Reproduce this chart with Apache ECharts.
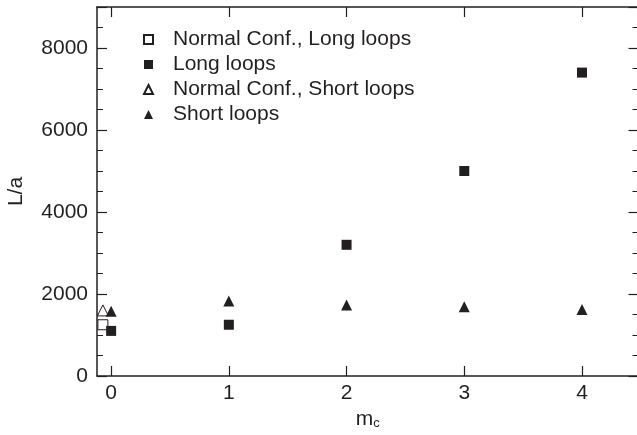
<!DOCTYPE html>
<html>
<head>
<meta charset="utf-8">
<script src="https://cdn.jsdelivr.net/npm/echarts@6/dist/echarts.min.js"></script>
<style>html,body{margin:0;padding:0;background:#fff}#c{width:637px;height:435px}</style>
</head>
<body>
<div id="c"></div>
<script>
const seriesNames = ['Normal Conf., Long loops', 'Long loops', 'Normal Conf., Short loops', 'Short loops'];
const normalLongX = [-0.07];
const normalLongY = [1250];
const longX = [0, 1, 2, 3, 4];
const longY = [1100, 1250, 3200, 5000, 7400];
const normalShortX = [-0.07];
const normalShortY = [1600];
const shortX = [0, 1, 2, 3, 4];
const shortY = [1580, 1830, 1730, 1690, 1620];
const xTicks = [0, 1, 2, 3, 4];

const ink = '#231f20';
const font = 'Liberation Sans, Arial, Helvetica, sans-serif';
const pair = (xs, ys) => xs.map((x, i) => [x, ys[i]]);

const chart = echarts.init(document.getElementById('c'));
const xBase = {
  type: 'value', min: -0.12, max: 4.48,
  axisLine: { show: true, onZero: false, lineStyle: { color: ink, width: 1.5 } },
  axisTick: { show: true, inside: true, length: 10, customValues: xTicks, lineStyle: { color: ink, width: 1.2 } },
  splitLine: { show: false }
};
const yBase = {
  type: 'value', min: 0, max: 9000, interval: 2000,
  axisLine: { show: true, onZero: false, lineStyle: { color: ink, width: 1.5 } },
  axisTick: { show: true, inside: true, length: 10, lineStyle: { color: ink, width: 1.2 } },
  minorTick: { show: true, splitNumber: 4, length: 6, lineStyle: { color: ink, width: 1 } },
  splitLine: { show: false }, minorSplitLine: { show: false }
};
chart.setOption({
  animation: false,
  backgroundColor: '#fff',
  grid: { left: 97, width: 541.5, top: 7, height: 369, containLabel: false, outerBoundsMode: 'none' },
  legend: {
    orient: 'vertical', left: 138, top: 24, itemGap: 4,
    itemWidth: 9, itemHeight: 9,
    data: seriesNames,
    textStyle: { fontFamily: font, fontSize: 21, color: ink, padding: [0, 0, 0, 15] }
  },
  xAxis: [
    Object.assign({}, xBase, {
      position: 'bottom',
      name: '{m|m}{s|c}', nameLocation: 'middle', nameGap: 26,
      nameTextStyle: { rich: { m: { fontFamily: font, fontSize: 21, color: ink }, s: { fontFamily: font, fontSize: 13, color: ink, verticalAlign: 'bottom', padding: [9, 0, 0, 0] } } },
      axisLabel: { show: true, customValues: xTicks, margin: 7, fontFamily: font, fontSize: 21, color: ink }
    }),
    Object.assign({}, xBase, { position: 'top', axisLabel: { show: false } })
  ],
  yAxis: [
    Object.assign({}, yBase, {
      position: 'left',
      name: 'L/a', nameLocation: 'middle', nameGap: 70, nameRotate: 90,
      nameTextStyle: { fontFamily: font, fontSize: 21, color: ink },
      axisLabel: { show: true, margin: 9, fontFamily: font, fontSize: 21, color: ink, showMaxLabel: false, formatter: v => String(v) }
    }),
    Object.assign({}, yBase, { position: 'right', axisLabel: { show: false } })
  ],
  series: [
    { name: seriesNames[0], type: 'scatter', symbol: 'rect', symbolSize: 10, data: pair(normalLongX, normalLongY), itemStyle: { color: '#fff', borderColor: ink, borderWidth: 1, opacity: 1 } },
    { name: seriesNames[1], type: 'scatter', symbol: 'rect', symbolSize: 10, data: pair(longX, longY), itemStyle: { color: ink, opacity: 1 } },
    { name: seriesNames[2], type: 'scatter', symbol: 'triangle', symbolSize: 11, data: pair(normalShortX, normalShortY), itemStyle: { color: '#fff', borderColor: ink, borderWidth: 1, opacity: 1 } },
    { name: seriesNames[3], type: 'scatter', symbol: 'triangle', symbolSize: 11, data: pair(shortX, shortY), itemStyle: { color: ink, opacity: 1 } }
  ]
});
</script>
</body>
</html>
